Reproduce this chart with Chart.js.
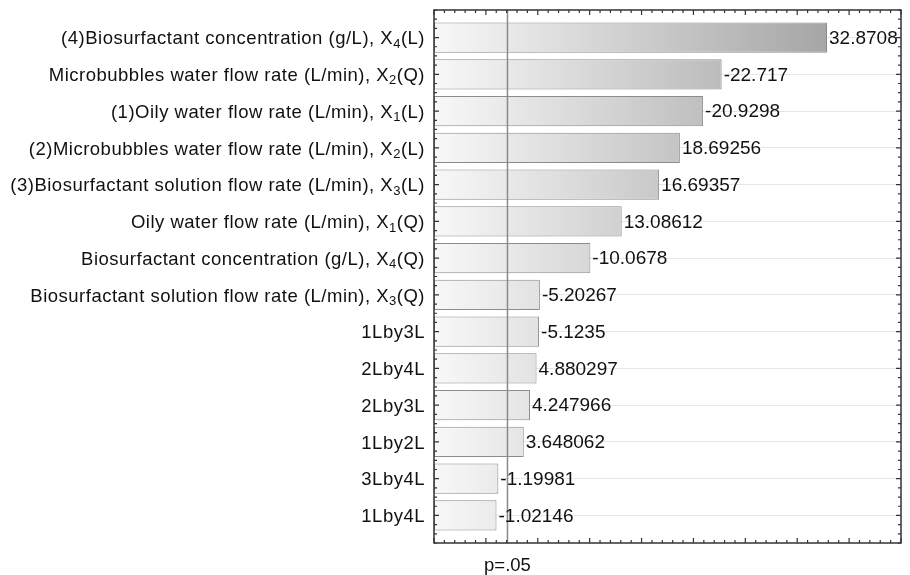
<!DOCTYPE html>
<html>
<head>
<meta charset="utf-8">
<script src="https://cdn.jsdelivr.net/npm/chart.js@4.4.1/dist/chart.umd.min.js"></script>
<style>
  html, body { margin: 0; padding: 0; background: #fff; }
  #wrap { width: 910px; height: 575px; }
</style>
</head>
<body>
<div id="wrap"><canvas id="pareto"></canvas></div>
<script>
// Pareto chart of standardized effects (absolute value)
const factors = [
  "(4)Biosurfactant concentration (g/L), X\u2084(L)",
  "Microbubbles water flow rate (L/min), X\u2082(Q)",
  "(1)Oily water flow rate (L/min), X\u2081(L)",
  "(2)Microbubbles water flow rate (L/min), X\u2082(L)",
  "(3)Biosurfactant solution flow rate (L/min), X\u2083(L)",
  "Oily water flow rate (L/min), X\u2081(Q)",
  "Biosurfactant concentration (g/L), X\u2084(Q)",
  "Biosurfactant solution flow rate (L/min), X\u2083(Q)",
  "1Lby3L",
  "2Lby4L",
  "2Lby3L",
  "1Lby2L",
  "3Lby4L",
  "1Lby4L"
];
const effects = [32.8708, -22.717, -20.9298, 18.69256, 16.69357, 13.08612, -10.0678,
  -5.20267, -5.1235, 4.880297, 4.247966, 3.648062, -1.19981, -1.02146];
const xMin = -5;
const xMax = 40;
const tCrit = 2.08;
const critLabel = "p=.05";

const FONT = "'Liberation Sans', Arial, sans-serif";
const LABEL_SIZE = 18.5;
const VALUE_SIZE = 19;

// draws a label, turning unicode subscript digits into real small lowered digits
function drawLabel(ctx, text, xRight, y) {
  const runs = [];
  for (const ch of text) {
    const c = ch.charCodeAt(0);
    const sub = c >= 0x2080 && c <= 0x2089;
    const t = sub ? String.fromCharCode(c - 0x2080 + 48) : ch;
    const last = runs[runs.length - 1];
    if (last && last.sub === sub) last.t += t; else runs.push({ sub, t });
  }
  const big = LABEL_SIZE + "px " + FONT;
  const small = Math.round(LABEL_SIZE * 0.68) + "px " + FONT;
  ctx.letterSpacing = "0.5px";
  let w = 0;
  runs.forEach(r => { ctx.font = r.sub ? small : big; r.w = ctx.measureText(r.t).width; w += r.w; });
  let x = xRight - w;
  ctx.textAlign = "left";
  ctx.textBaseline = "alphabetic";
  const base = y + LABEL_SIZE * 0.36;
  runs.forEach(r => {
    ctx.font = r.sub ? small : big;
    ctx.fillText(r.t, x, r.sub ? base + 3.5 : base);
    x += r.w;
  });
  ctx.letterSpacing = "0px";
}

// frame, tick marks, category labels, p line and value labels
const decor = {
  id: "decor",
  afterDatasetsDraw(chart) {
    const { ctx, chartArea: a, scales } = chart;
    const xs = scales.x, ys = scales.y;
    ctx.save();

    // p=.05 reference line
    const px = xs.getPixelForValue(tCrit);
    ctx.strokeStyle = "#8a8a8a";
    ctx.lineWidth = 1.5;
    ctx.beginPath();
    ctx.moveTo(px, a.top);
    ctx.lineTo(px, a.bottom);
    ctx.stroke();

    // category labels
    ctx.fillStyle = "#111";
    factors.forEach((f, i) => drawLabel(ctx, f, a.left - 9, ys.getPixelForValue(i)));

    // value labels
    ctx.font = VALUE_SIZE + "px " + FONT;
    ctx.textBaseline = "middle";
    ctx.textAlign = "left";
    const meta = chart.getDatasetMeta(0);
    meta.data.forEach((bar, i) => {
      ctx.fillText(String(effects[i]), bar.x + 2, bar.y + 1);
    });

    // frame
    ctx.strokeStyle = "#333";
    ctx.lineWidth = 1.5;
    ctx.strokeRect(a.left, a.top, a.right - a.left, a.bottom - a.top);

    // tick marks, inward
    ctx.lineWidth = 1.2;
    ctx.beginPath();
    for (let v = xMin; v <= xMax; v++) {
      const x = xs.getPixelForValue(v);
      const len = v % 5 === 0 ? 5 : 3;
      ctx.moveTo(x, a.top); ctx.lineTo(x, a.top + len);
      ctx.moveTo(x, a.bottom); ctx.lineTo(x, a.bottom - len);
    }
    for (let q = ys.min; q <= ys.max + 1e-6; q += 0.25) {
      const y = ys.getPixelForValue(q);
      const len = Math.abs(q - Math.round(q)) < 1e-6 ? 5 : 3;
      ctx.moveTo(a.left, y); ctx.lineTo(a.left + len, y);
      ctx.moveTo(a.right, y); ctx.lineTo(a.right - len, y);
    }
    ctx.stroke();
    ctx.restore();
  }
};

function barFill(context) {
  const a = context.chart.chartArea;
  if (!a) return "#ddd";
  const g = context.chart.ctx.createLinearGradient(a.left, 0, a.right, 0);
  g.addColorStop(0, "#f8f8f8");
  g.addColorStop(1, "#969696");
  return g;
}

new Chart(document.getElementById("pareto"), {
  type: "bar",
  data: {
    labels: factors,
    datasets: [{
      data: effects.map((v, i) => ({ x: Math.abs(v), y: i })),
      base: xMin,
      backgroundColor: barFill,
      borderColor: "#8c8c8c",
      borderWidth: 1,
      borderSkipped: false,
      categoryPercentage: 1,
      barPercentage: 0.82
    }]
  },
  options: {
    indexAxis: "y",
    responsive: true,
    maintainAspectRatio: false,
    animation: false,
    layout: { padding: { top: 10, right: 9, left: 0, bottom: 0 } },
    plugins: { legend: { display: false }, tooltip: { enabled: false } },
    scales: {
      x: {
        type: "linear",
        min: xMin,
        max: xMax,
        grid: { display: false, drawTicks: false },
        border: { display: false },
        afterBuildTicks: (s) => { s.ticks = [{ value: tCrit }]; },
        afterFit: (s) => { s.height = 32; },
        ticks: {
          callback: () => critLabel,
          color: "#111",
          padding: 12,
          maxRotation: 0,
          font: { family: FONT, size: LABEL_SIZE }
        }
      },
      y: {
        type: "linear",
        reverse: true,
        offset: false,
        min: -0.75,
        max: factors.length - 0.25,
        grid: { color: "#e6e6e6", drawTicks: false, offset: false },
        border: { display: false },
        afterBuildTicks: (s) => { s.ticks = factors.map((_, i) => ({ value: i })); },
        afterFit: (s) => { s.width = 434; },
        ticks: { display: false }
      }
    }
  },
  plugins: [decor]
});
</script>
</body>
</html>
